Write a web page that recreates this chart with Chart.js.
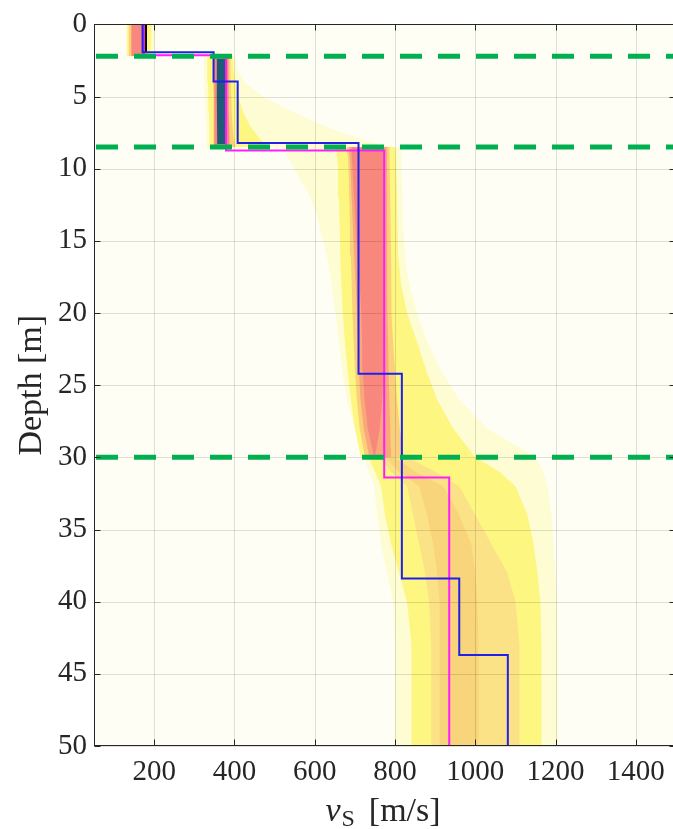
<!DOCTYPE html>
<html>
<head>
<meta charset="utf-8">
<script src="https://cdn.jsdelivr.net/npm/chart.js@4.4.1/dist/chart.umd.min.js"></script>
<style>
html,body{margin:0;padding:0;background:#ffffff;overflow:hidden;}
#wrap{width:680px;height:829px;}
</style>
</head>
<body>
<div id="wrap"><canvas id="c" width="680" height="829"></canvas></div>
<script>
// ---------------- DATA ----------------
const depthTicks = [0, 5, 10, 15, 20, 25, 30, 35, 40, 45, 50];
const vsTicks = [200, 400, 600, 800, 1000, 1200, 1400];
const vsRange = [50, 1500];
const depthRange = [0, 50];

// layer boundaries (green dashed)
const horizonDepths = [2.2, 8.5, 30];

// profiles: layer top depths and layer velocities
const blueTops = [0, 1.93, 3.95, 8.22, 24.2, 38.4, 43.7];
const blueVs = [171, 348, 408, 709, 817, 960, 1081];
const magentaTops = [0, 2.13, 8.74, 31.4];
const magentaVs = [174, 379, 773, 935];
const blackTops = [0];
const blackVs = [179];
const blackBottom = 1.93;

// density zone A (0 - 2.2 m)
const zA_depth = [0, 1, 2.2];
const zA_paleLo = [130, 130, 130];
const zA_paleHi = [202, 202, 200];
const zA_yellowLo = [133, 133, 133];
const zA_yellowHi = [193, 193, 190];
const zA_orangeLo = [137, 137, 137];
const zA_orangeHi = [182, 182, 180];
const zA_redLo = [143, 143, 143];
const zA_redHi = [172, 172, 172];

// density zone B (2.2 - 8.5 m)
const zB_depth = [2.2, 3, 4, 5, 6, 7, 8, 8.5];
const zB_paleLo = [324, 324, 325, 326, 328, 330, 330, 330];
const zB_paleHi = [402, 405, 425, 470, 540, 620, 720, 790];
const zB_yellowLo = [332, 333, 334, 335, 336, 337, 338, 338];
const zB_yellowHi = [396, 397, 402, 410, 420, 438, 465, 490];
const zB_orangeLo = [344, 345, 346, 347, 347, 348, 348, 348];
const zB_orangeHi = [390, 390, 391, 392, 393, 395, 398, 402];
const zB_redLo = [349, 349, 350, 350, 350, 350, 351, 351];
const zB_redHi = [385, 385, 385, 386, 386, 387, 388, 388];
const zB_tealDepth = [2.4, 5, 8.3];
const zB_tealLo = [356, 356, 357];
const zB_tealHi = [381, 380, 378];

// density zone C (8.5 - 30 m)
const zC_depth = [8.5, 9, 10, 12, 14, 16, 18, 20, 22, 24, 26, 28, 30];
const zC_paleLo = [520, 530, 548, 590, 612, 630, 642, 652, 660, 668, 680, 700, 722];
const zC_paleHi = [815, 815, 816, 818, 820, 825, 835, 855, 880, 915, 960, 1030, 1150];
const zC_yellowLo = [652, 655, 658, 660, 662, 664, 666, 670, 675, 682, 690, 700, 715];
const zC_yellowHi = [800, 802, 803, 805, 806, 808, 815, 830, 855, 878, 905, 945, 1000];
const zC_orangeLo = [680, 682, 684, 686, 688, 690, 692, 694, 697, 700, 705, 712, 725];
const zC_orangeHi = [786, 786, 787, 788, 789, 790, 790, 792, 795, 800, 805, 812, 822];
const zC_salmonLo = [686, 687, 689, 692, 695, 698, 702, 705, 708, 710, 714, 722, 736];
const zC_salmonHi = [779, 780, 780, 781, 781, 781, 781, 782, 783, 784, 786, 788, 790];
const zC_redLo = [692, 692, 694, 698, 702, 706, 712, 716, 718, 720, 724, 732, 748];
const zC_redHi = [772, 773, 773, 773, 773, 773, 772, 772, 772, 771, 768, 762, 750];

// density zone D (30 - 50 m)
const zD_depth = [30, 31, 32, 34, 36, 38, 40, 43, 46, 50];
const zD_paleLo = [722, 735, 748, 755, 765, 780, 795, 800, 800, 800];
const zD_paleHi = [1150, 1170, 1180, 1190, 1195, 1200, 1203, 1205, 1205, 1205];
const zD_yellowLo = [735, 750, 765, 775, 790, 810, 830, 840, 842, 842];
const zD_yellowHi = [1000, 1060, 1100, 1130, 1145, 1155, 1162, 1165, 1165, 1165];
const zD_orangeLo = [760, 790, 830, 845, 860, 875, 885, 890, 890, 890];
const zD_orangeHi = [830, 900, 960, 1000, 1040, 1080, 1100, 1110, 1110, 1110];
const zD_amberLo = [775, 810, 860, 880, 895, 905, 910, 912, 912, 912];
const zD_amberHi = [800, 850, 920, 960, 990, 1000, 1005, 1008, 1008, 1008];

// text
const yTitle = 'Depth [m]';
const xTitleMain = 'v';
const xTitleSub = 'S';
const xTitleUnit = '[m/s]';

// ---------------- STYLE ----------------
const SERIF = "'Liberation Serif', 'Times New Roman', serif";
const C = {
  plotBg: '#fefef4',
  pale: '#fefcd2',
  yellow: '#fdf680',
  orange: '#fbcf7c',
  salmon: '#f9a87a',
  orangeLight: '#fbe287',
  amber: '#f8d47a',
  red: '#f8887e',
  teal: '#1d5b78',
  blue: '#2020e8',
  magenta: '#ff1cff',
  black: '#000000',
  green: '#00b050',
  axis: '#262626',
  grid: 'rgba(0,0,0,0.12)'
};

// ---------------- BUILD DATASETS ----------------
const datasets = [];
function addBand(depths, lo, hi, color, order) {
  const iLo = datasets.length;
  datasets.push({
    data: depths.map((d, i) => ({x: lo[i], y: d})),
    borderWidth: 0, borderColor: 'rgba(0,0,0,0)', pointRadius: 0,
    fill: false, order: order, isDensity: true
  });
  datasets.push({
    data: depths.map((d, i) => ({x: hi[i], y: d})),
    borderWidth: 0, borderColor: 'rgba(0,0,0,0)', backgroundColor: color, pointRadius: 0,
    fill: iLo, order: order, isDensity: true
  });
}
function profilePoints(tops, vs, bottom) {
  const pts = [];
  for (let i = 0; i < vs.length; i++) {
    const t = tops[i];
    const b = i + 1 < tops.length ? tops[i + 1] : bottom;
    pts.push({x: vs[i], y: t});
    pts.push({x: vs[i], y: b});
  }
  return pts;
}

// zone A
addBand(zA_depth, zA_paleLo, zA_paleHi, C.pale, 60);
addBand(zA_depth, zA_yellowLo, zA_yellowHi, C.yellow, 50);
addBand(zA_depth, zA_orangeLo, zA_orangeHi, C.orange, 40);
addBand(zA_depth, zA_redLo, zA_redHi, C.red, 30);
// zone B
addBand(zB_depth, zB_paleLo, zB_paleHi, C.pale, 60);
addBand(zB_depth, zB_yellowLo, zB_yellowHi, C.yellow, 50);
addBand(zB_depth, zB_orangeLo, zB_orangeHi, C.orange, 40);
addBand(zB_depth, zB_redLo, zB_redHi, C.red, 30);
addBand(zB_tealDepth, zB_tealLo, zB_tealHi, C.teal, 20);
// zone C
addBand(zC_depth, zC_paleLo, zC_paleHi, C.pale, 60);
addBand(zC_depth, zC_yellowLo, zC_yellowHi, C.yellow, 50);
addBand(zC_depth, zC_orangeLo, zC_orangeHi, C.orange, 40);
addBand(zC_depth, zC_salmonLo, zC_salmonHi, C.salmon, 35);
addBand(zC_depth, zC_redLo, zC_redHi, C.red, 30);
// zone D
addBand(zD_depth, zD_paleLo, zD_paleHi, C.pale, 60);
addBand(zD_depth, zD_yellowLo, zD_yellowHi, C.yellow, 50);
addBand(zD_depth, zD_orangeLo, zD_orangeHi, C.orangeLight, 40);
addBand(zD_depth, zD_amberLo, zD_amberHi, C.amber, 35);

// profiles
datasets.push({
  data: profilePoints(blackTops, blackVs, blackBottom),
  borderColor: C.black, borderWidth: 2.5, pointRadius: 0, fill: false, order: 5
});
datasets.push({
  data: profilePoints(magentaTops, magentaVs, depthRange[1]),
  borderColor: C.magenta, borderWidth: 2, pointRadius: 0, fill: false, order: 4
});
datasets.push({
  data: profilePoints(blueTops, blueVs, depthRange[1]),
  borderColor: C.blue, borderWidth: 2, pointRadius: 0, fill: false, order: 3
});
// green dashed horizons
horizonDepths.forEach(d => {
  datasets.push({
    data: [{x: vsRange[0], y: d}, {x: vsRange[1], y: d}],
    borderColor: C.green, borderWidth: 5, borderDash: [22, 16], borderDashOffset: -2,
    borderCapStyle: 'butt', pointRadius: 0, fill: false, order: 1
  });
});

// ---------------- PLUGIN ----------------
function drawGrid(chart) {
  const {ctx, chartArea: a, scales: {x, y}} = chart;
  ctx.save();
  ctx.strokeStyle = C.grid;
  ctx.lineWidth = 1;
  ctx.beginPath();
  vsTicks.forEach(v => {
    const p = Math.round(x.getPixelForValue(v)) + 0.5;
    ctx.moveTo(p, a.top); ctx.lineTo(p, a.bottom);
  });
  depthTicks.forEach(d => {
    const p = Math.round(y.getPixelForValue(d)) + 0.5;
    ctx.moveTo(a.left, p); ctx.lineTo(a.right, p);
  });
  ctx.stroke();
  ctx.restore();
}
const decor = {
  id: 'decor',
  beforeDraw(chart) {
    const {ctx, chartArea: a} = chart;
    ctx.save();
    ctx.fillStyle = C.plotBg;
    ctx.fillRect(a.left, a.top, a.right - a.left, a.bottom - a.top);
    ctx.restore();
    chart.$gridDone = false;
  },
  beforeDatasetDraw(chart, args) {
    const ds = chart.data.datasets[args.index];
    if (!chart.$gridDone && !ds.isDensity) {
      drawGrid(chart);
      chart.$gridDone = true;
    }
  },
  afterDatasetsDraw(chart) {
    if (!chart.$gridDone) { drawGrid(chart); chart.$gridDone = true; }
    const {ctx, chartArea: a, scales: {x, y}} = chart;
    ctx.save();
    ctx.strokeStyle = C.axis;
    ctx.lineWidth = 1;
    const L = Math.round(a.left) + 0.5, R = Math.round(a.right) - 0.5;
    const T = Math.round(a.top) + 0.5, B = Math.round(a.bottom) - 0.5;
    ctx.strokeRect(L, T, R - L, B - T);
    const tl = 6;
    ctx.beginPath();
    vsTicks.forEach(v => {
      const p = Math.round(x.getPixelForValue(v)) + 0.5;
      ctx.moveTo(p, B); ctx.lineTo(p, B - tl);
      ctx.moveTo(p, T); ctx.lineTo(p, T + tl);
    });
    depthTicks.forEach(d => {
      const p = Math.round(y.getPixelForValue(d)) + 0.5;
      ctx.moveTo(L, p); ctx.lineTo(L + tl, p);
      ctx.moveTo(R, p); ctx.lineTo(R - tl, p);
    });
    ctx.stroke();
    // x title with italic v and subscript S
    const big = 34, small = 24;
    ctx.fillStyle = C.axis;
    ctx.textBaseline = 'alphabetic';
    ctx.textAlign = 'left';
    ctx.font = 'italic ' + big + 'px ' + SERIF;
    const w1 = ctx.measureText(xTitleMain).width;
    ctx.font = small + 'px ' + SERIF;
    const w2 = ctx.measureText(xTitleSub).width;
    ctx.font = big + 'px ' + SERIF;
    const gap = 14;
    const w3 = ctx.measureText(xTitleUnit).width;
    const total = w1 + 1 + w2 + gap + w3;
    const cx = (a.left + a.right) / 2 - 2;
    let sx = cx - total / 2;
    const base = 821;
    ctx.font = 'italic ' + big + 'px ' + SERIF;
    ctx.fillText(xTitleMain, sx, base);
    sx += w1 + 1;
    ctx.font = small + 'px ' + SERIF;
    ctx.fillText(xTitleSub, sx, base + 5);
    sx += w2 + gap;
    ctx.font = big + 'px ' + SERIF;
    ctx.fillText(xTitleUnit, sx, base);
    ctx.restore();
  }
};

// ---------------- CHART ----------------
const tickFont = {family: SERIF, size: 29};
new Chart(document.getElementById('c'), {
  type: 'line',
  data: {datasets: datasets},
  options: {
    indexAxis: 'y',
    responsive: false,
    animation: false,
    events: [],
    layout: {padding: {top: 20, right: 4, left: 0, bottom: 0}},
    elements: {line: {tension: 0}},
    plugins: {legend: {display: false}, tooltip: {enabled: false}},
    scales: {
      x: {
        type: 'linear', position: 'bottom',
        min: vsRange[0], max: vsRange[1],
        afterBuildTicks: s => { s.ticks = vsTicks.map(v => ({value: v})); },
        afterFit: s => { s.height = 83; },
        grid: {display: false, drawTicks: false},
        border: {display: false},
        ticks: {
          font: tickFont, color: C.axis,
          padding: 9, maxRotation: 0, autoSkip: false,
          callback: v => String(v)
        }
      },
      y: {
        type: 'linear', position: 'left', reverse: true,
        min: depthRange[0], max: depthRange[1],
        afterBuildTicks: s => { s.ticks = depthTicks.map(v => ({value: v})); },
        afterFit: s => { s.width = 94; },
        grid: {display: false, drawTicks: false},
        border: {display: false},
        ticks: {
          font: tickFont, color: C.axis,
          padding: 7, autoSkip: false,
          callback: v => String(v)
        },
        title: {
          display: true, text: yTitle, color: C.axis,
          font: {family: SERIF, size: 34},
          padding: {top: 12, bottom: 0}
        }
      }
    }
  },
  plugins: [decor]
});
</script>
</body>
</html>
